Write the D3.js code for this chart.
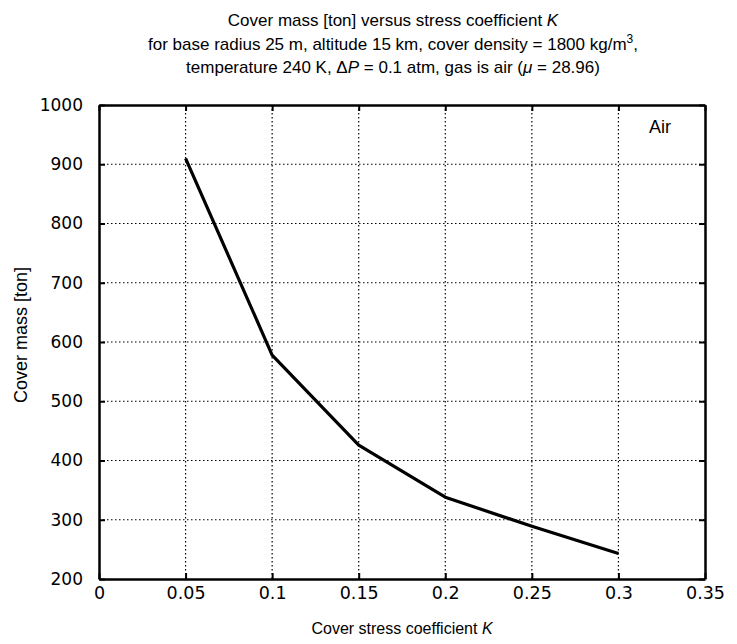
<!DOCTYPE html>
<html>
<head>
<meta charset="utf-8">
<script src="https://cdn.jsdelivr.net/npm/d3@7"></script>
<style>
  body { margin: 0; background: #fff; }
  svg { display: block; font-family: "Liberation Sans", Arial, sans-serif; }
</style>
</head>
<body>
<svg id="chart" width="737" height="644"></svg>
<script>
const kValues = [0.05, 0.1, 0.15, 0.2, 0.25, 0.3];
const massValues = [910, 578, 426, 338, 289, 243];
const xTicks = [0, 0.05, 0.1, 0.15, 0.2, 0.25, 0.3, 0.35];
const yTicks = [200, 300, 400, 500, 600, 700, 800, 900, 1000];
const titleLines = [
  "Cover mass [ton] versus stress coefficient ",
  "for base radius 25 m, altitude 15 km, cover density = 1800 kg/m",
  "temperature 240 K, "
];

const svg = d3.select("#chart");
const m = {left: 99, right: 705, top: 105, bottom: 579};
const x = d3.scaleLinear().domain([0, 0.35]).range([m.left, m.right]);
const y = d3.scaleLinear().domain([200, 1000]).range([m.bottom, m.top]);

// grid
const grid = svg.append("g").attr("stroke", "#000").attr("stroke-width", 1.2)
  .attr("stroke-dasharray", "1.5,2.5");
grid.selectAll("line.v").data(xTicks.slice(1, -1)).join("line")
  .attr("x1", d => x(d)).attr("x2", d => x(d))
  .attr("y1", m.top).attr("y2", m.bottom);
grid.selectAll("line.h").data(yTicks.slice(1, -1)).join("line")
  .attr("x1", m.left).attr("x2", m.right)
  .attr("y1", d => y(d)).attr("y2", d => y(d));

// axes
const fmt = d => String(d);
const ax = svg.append("g").attr("transform", `translate(0,${m.bottom})`)
  .call(d3.axisBottom(x).tickValues(xTicks).tickFormat(fmt).tickSizeInner(-6).tickSizeOuter(0).tickPadding(8));
const ay = svg.append("g").attr("transform", `translate(${m.left},0)`)
  .call(d3.axisLeft(y).tickValues(yTicks).tickFormat(fmt).tickSizeInner(-6).tickSizeOuter(0).tickPadding(16));
const axTop = svg.append("g").attr("transform", `translate(0,${m.top})`)
  .call(d3.axisTop(x).tickValues(xTicks).tickFormat("").tickSizeInner(-6).tickSizeOuter(0));
const ayR = svg.append("g").attr("transform", `translate(${m.right},0)`)
  .call(d3.axisRight(y).tickValues(yTicks).tickFormat("").tickSizeInner(-6).tickSizeOuter(0));
[ax, ay, axTop, ayR].forEach(g => {
  g.select(".domain").attr("stroke", "#000").attr("stroke-width", 2.5);
  g.selectAll(".tick line").attr("stroke", "#000").attr("stroke-width", 2);
  g.selectAll(".tick text").attr("font-size", 17).attr("fill", "#000")
    .attr("font-family", "'DejaVu Sans', sans-serif");
});
ax.selectAll(".tick text").attr("font-size", 17.5);

// data line
const line = d3.line().x(d => x(d[0])).y(d => y(d[1]));
svg.append("path").datum(kValues.map((k, i) => [k, massValues[i]]))
  .attr("d", line).attr("fill", "none").attr("stroke", "#000")
  .attr("stroke-width", 3.2).attr("stroke-linejoin", "round");

// "Air" label
svg.append("text").attr("x", 660).attr("y", 133).attr("text-anchor", "middle")
  .attr("font-size", 18).text("Air");

// title
const cx = 393;
const t1 = svg.append("text").attr("x", cx).attr("y", 26).attr("text-anchor", "middle").attr("font-size", 17);
t1.append("tspan").text(titleLines[0]);
t1.append("tspan").attr("font-style", "italic").text("K");
const t2 = svg.append("text").attr("x", cx).attr("y", 50).attr("text-anchor", "middle").attr("font-size", 17);
t2.append("tspan").text(titleLines[1]);
t2.append("tspan").attr("font-size", 12).attr("dy", -7).text("3");
t2.append("tspan").attr("dy", 7).text(",");
const t3 = svg.append("text").attr("x", cx).attr("y", 73).attr("text-anchor", "middle").attr("font-size", 17);
t3.append("tspan").text(titleLines[2] + "\u0394");
t3.append("tspan").attr("font-style", "italic").text("P");
t3.append("tspan").text(" = 0.1 atm, gas is air (");
t3.append("tspan").attr("font-style", "italic").text("\u03bc");
t3.append("tspan").text(" = 28.96)");

// axis labels
const xl = svg.append("text").attr("x", 402).attr("y", 634).attr("text-anchor", "middle").attr("font-size", 16);
xl.append("tspan").text("Cover stress coefficient ");
xl.append("tspan").attr("font-style", "italic").text("K");
svg.append("text").attr("transform", `translate(27,335) rotate(-90)`)
  .attr("text-anchor", "middle").attr("font-size", 18).text("Cover mass [ton]");
</script>
</body>
</html>
